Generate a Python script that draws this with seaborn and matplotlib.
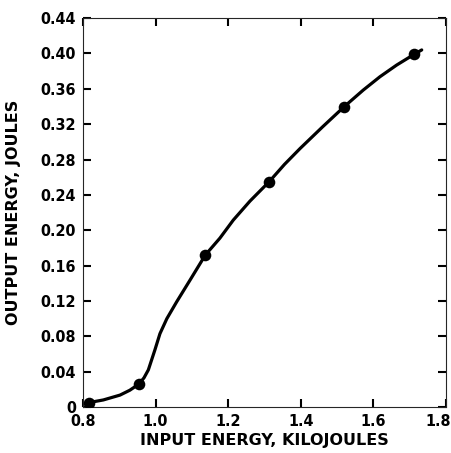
import matplotlib
matplotlib.use("Agg")
import matplotlib.pyplot as plt
import matplotlib.transforms as mtransforms
import seaborn as sns
import pandas as pd

# measured data points
input_kj = [0.816, 0.954, 1.137, 1.313, 1.520, 1.712]
output_j = [0.005, 0.026, 0.172, 0.255, 0.340, 0.399]

# traced smooth curve drawn through the points
curve_x = [0.816, 0.856, 0.902, 0.929, 0.954, 0.968, 0.980, 0.998, 1.012, 1.031,
           1.058, 1.095, 1.137, 1.177, 1.214, 1.260, 1.313, 1.355, 1.398, 1.460,
           1.520, 1.572, 1.618, 1.664, 1.712, 1.733]
curve_y = [0.005, 0.008, 0.0135, 0.019, 0.026, 0.033, 0.042, 0.0645, 0.083, 0.100,
           0.119, 0.1437, 0.172, 0.191, 0.2115, 0.233, 0.255, 0.2745, 0.2925, 0.317,
           0.340, 0.3586, 0.3737, 0.3869, 0.399, 0.404]

x_ticks = [0.8, 1.0, 1.2, 1.4, 1.6, 1.8]
x_tick_labels = ["0.8", "1.0", "1.2", "1.4", "1.6", "1.8"]
y_ticks = [0, 0.04, 0.08, 0.12, 0.16, 0.20, 0.24, 0.28, 0.32, 0.36, 0.40, 0.44]
y_tick_labels = ["0", "0.04", "0.08", "0.12", "0.16", "0.20", "0.24", "0.28",
                 "0.32", "0.36", "0.40", "0.44"]

sns.set_style("ticks")
plt.rcParams["font.family"] = ["DejaVu Sans"]
plt.rcParams["text.color"] = "black"
plt.rcParams["axes.labelcolor"] = "black"

fig = plt.figure(figsize=(4.51, 4.53), dpi=100)
ax = fig.add_axes([0.184, 0.1015, 0.805, 0.8585])

curve = pd.DataFrame({"x": curve_x, "y": curve_y})
pts = pd.DataFrame({"x": input_kj, "y": output_j})

sns.lineplot(data=curve, x="x", y="y", sort=False, color="black", linewidth=2.3, ax=ax)
sns.scatterplot(data=pts, x="x", y="y", color="black", s=70, edgecolor="black",
                linewidth=0, ax=ax, zorder=5)

ax.set_xlim(0.8, 1.8)
ax.set_ylim(0, 0.44)
ax.set_xticks(x_ticks)
ax.set_xticklabels(x_tick_labels)
ax.set_yticks(y_ticks)
ax.set_yticklabels(y_tick_labels)
ax.tick_params(direction="in", length=6, width=1.5, top=True, right=True,
               labelsize=11.5, colors="black")
ax.tick_params(axis="y", pad=5)
ax.tick_params(axis="x", pad=5)
for lab in ax.get_xticklabels() + ax.get_yticklabels():
    lab.set_fontweight("bold")
    lab.set_fontstretch("condensed")

# keep the last x label inside the figure, as in the reference
last = ax.get_xticklabels()[-1]
last.set_horizontalalignment("right")
last.set_transform(last.get_transform() + mtransforms.ScaledTranslation(5 / 100, 0, fig.dpi_scale_trans))

ax.set_xlabel("INPUT ENERGY, KILOJOULES", fontsize=11.5, fontweight="bold", labelpad=3)
ax.set_ylabel("OUTPUT ENERGY, JOULES", fontsize=11.5, fontweight="bold", labelpad=14)

fig.savefig("out.png", dpi=100, facecolor="white")
